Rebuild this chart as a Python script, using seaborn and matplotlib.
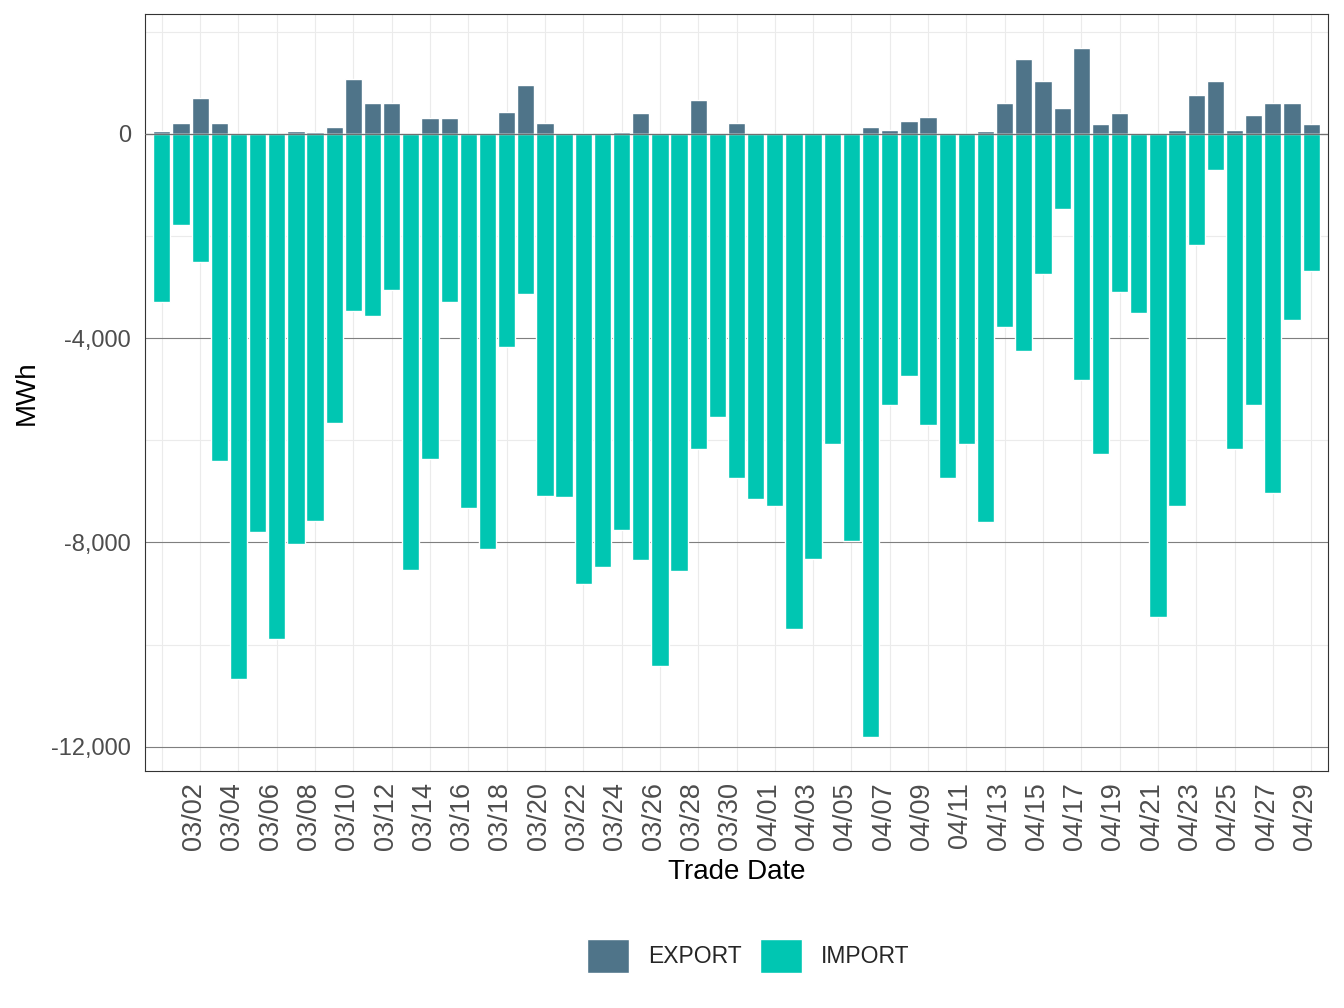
import pandas as pd
import seaborn as sns
import matplotlib
matplotlib.use('Agg')
import matplotlib.pyplot as plt
from matplotlib.ticker import FuncFormatter

# Trade dates 03/01 .. 04/30
DATES = pd.date_range("2024-03-01", "2024-04-30").strftime("%m/%d").tolist()

EXPORT = [65, 222, 693, 222, 0, 0, 0, 65, 46, 144,
          1065, 614, 614, 0, 320, 320, 0, 0, 438, 948,
          222, 26, 26, 0, 46, 399, 0, 0, 654, 0,
          222,
          0, 0, 0, 0, 0, 0, 144, 85, 261, 340,
          0, 0, 65, 595, 1458, 1026, 497, 1673, 203, 418,
          0, 0, 85, 752, 1026, 85, 360, 595, 595, 203]

IMPORT = [-3300, -1780, -2500, -6410, -10670, -7800, -9890, -8030, -7580, -5670,
          -3460, -3570, -3050, -8540, -6370, -3290, -7330, -8130, -4180, -3140,
          -7090, -7110, -8810, -8480, -7760, -8340, -10410, -8560, -6160, -5550,
          -6740,
          -7150, -7290, -9690, -8330, -6080, -7970, -11800, -5300, -4740, -5700,
          -6740, -6080, -7600, -3790, -4260, -2750, -1470, -4820, -6270, -3100,
          -3500, -9460, -7290, -2180, -700, -6160, -5300, -7030, -3640, -2680]

FLOWS = ["EXPORT", "IMPORT"]
COLORS = {"EXPORT": "#4F7489", "IMPORT": "#00C6B2"}


def main():
    sns.set_theme(style="white")
    plt.rcParams['font.family'] = ['Liberation Sans', 'DejaVu Sans']

    df = pd.DataFrame({
        "date": DATES * 2,
        "flow": ["EXPORT"] * len(DATES) + ["IMPORT"] * len(DATES),
        "mwh": EXPORT + IMPORT,
    })

    fig = plt.figure(figsize=(13.44, 10.08), dpi=100)
    ax = fig.add_axes([145 / 1344, 1 - 771 / 1008, 1183 / 1344, 757 / 1008])

    sns.barplot(data=df, x="date", y="mwh", hue="flow", hue_order=FLOWS,
                palette=COLORS, dodge=False, width=0.9, saturation=1,
                order=DATES, ax=ax, zorder=2)

    # axes limits
    ax.set_xlim(-0.88, len(DATES) - 1 + 0.88)
    ax.set_ylim(-12474, 2347)

    # grid: ggplot-ish major / minor
    ax.set_axisbelow(True)
    ax.set_yticks([0, -4000, -8000, -12000])
    ax.set_yticks([2000, -2000, -6000, -10000], minor=True)
    ax.yaxis.set_major_formatter(FuncFormatter(lambda v, p: f"{v:,.0f}"))
    ax.grid(which="major", axis="y", color="#7f7f7f", lw=0.8)
    ax.grid(which="minor", axis="y", color="#ebebeb", lw=0.8)

    ax.set_xticks(range(1, len(DATES), 2))
    ax.set_xticklabels(DATES[1::2], rotation=90, ha="left")
    ax.set_xticks(range(0, len(DATES), 2), minor=True)
    ax.grid(which="minor", axis="x", color="#ebebeb", lw=0.8)
    ax.grid(which="major", axis="x", visible=False)
    ax.axhline(0, color="#6f6f6f", lw=0.9, zorder=3)

    ax.tick_params(axis="both", which="major", length=5, width=1.1,
                   color="#333333", labelcolor="#4d4d4d")
    ax.tick_params(axis="x", which="major", labelsize=19.5, pad=3)
    ax.tick_params(axis="y", which="major", labelsize=17, pad=5)
    ax.tick_params(which="minor", length=0)
    for s in ax.spines.values():
        s.set_color("#333333")
        s.set_linewidth(0.8)

    ax.set_xlabel("Trade Date", fontsize=20, color="black", va="center")
    ax.xaxis.set_label_coords(0.5, -0.1334)
    ax.set_ylabel("MWh", fontsize=20, color="black", va="center")
    ax.yaxis.set_label_coords(-0.0997, 0.5)

    handles, labels = ax.get_legend_handles_labels()
    ax.get_legend().remove()
    fig.legend(handles, labels, loc="center", bbox_to_anchor=(748 / 1344, 1 - 956 / 1008),
               ncol=2, frameon=False, fontsize=16.5, handlelength=1.85,
               handleheight=1.85, handletextpad=0.8, columnspacing=0.8)

    fig.savefig("out.png", dpi=100)
    plt.close(fig)


if __name__ == "__main__":
    main()
